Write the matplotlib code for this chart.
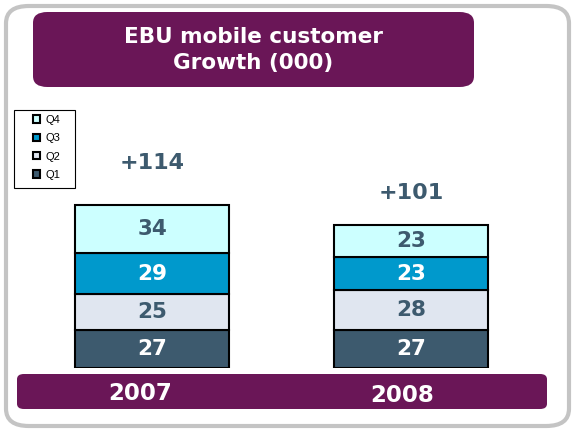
import matplotlib.pyplot as plt
from matplotlib.patches import FancyBboxPatch, Rectangle

# data
years = ['2007', '2008']
quarters = ['Q1', 'Q2', 'Q3', 'Q4']
q1 = [27, 27]
q2 = [25, 28]
q3 = [29, 23]
q4 = [34, 23]
totals = ['+114', '+101']

colors = ['#3d5a6e', '#e0e6f0', '#0099cc', '#ccffff']
text_colors = ['white', '#3d5a6e', 'white', '#3d5a6e']
purple = '#6a1657'
slate = '#3d5a6e'

W, H = 572, 432
fig = plt.figure(figsize=(W / 100, H / 100), dpi=100)


def fx(px):
    return px / W


def fy(py):
    return 1 - py / H


# outer rounded border
fig.patches.append(FancyBboxPatch((fx(6), fy(426)), fx(563), (426 - 6) / H,
                                  boxstyle='round,pad=0,rounding_size=0.04',
                                  transform=fig.transFigure, facecolor='white',
                                  edgecolor='#c4c4c4', lw=3, zorder=-2))

# title box
fig.patches.append(FancyBboxPatch((fx(33), fy(87)), fx(441), 75 / H,
                                  boxstyle='round,pad=0,rounding_size=0.025',
                                  transform=fig.transFigure, facecolor=purple,
                                  edgecolor='none', zorder=-1))
fig.text(fx(253), fy(50), 'EBU mobile customer\nGrowth (000)', ha='center', va='center',
         color='white', fontsize=15.5, fontweight='bold', linespacing=1.35)

# bottom band
fig.patches.append(FancyBboxPatch((fx(17), fy(409)), fx(530), 35 / H,
                                  boxstyle='round,pad=0,rounding_size=0.012',
                                  transform=fig.transFigure, facecolor=purple,
                                  edgecolor='none', zorder=-1))

# legend frame
fig.patches.append(Rectangle((fx(14), fy(188)), fx(61), 78 / H,
                             transform=fig.transFigure, facecolor='white',
                             edgecolor='black', lw=0.8, zorder=-1))

# chart axes: value 0 at y=368px, 1.42 px per unit; bar centres at 152 and 411 px
scale = 1.42
ax_top = 110
ax = fig.add_axes([0, fy(368), 1, (368 - ax_top) / H])
ax.set_ylim(0, (368 - ax_top) / scale)
step = 259
ax.set_xlim(-152 / step, (W - 152) / step)
ax.axis('off')
ax.patch.set_alpha(0)

xs = [0, 1]
bottoms = [0, 0]
series = [q1, q2, q3, q4]
handles = []
for i, vals in enumerate(series):
    b = ax.bar(xs, vals, width=154 / step, bottom=bottoms, color=colors[i],
               edgecolor='black', linewidth=1.5, label=quarters[i], zorder=3)
    handles.append(b)
    for x, v, bt in zip(xs, vals, bottoms):
        ax.text(x, bt + v / 2, str(v), ha='center', va='center', color=text_colors[i],
                fontsize=15.5, fontweight='bold', zorder=4)
    bottoms = [bt + v for bt, v in zip(bottoms, vals)]

# total labels above the bars
label_gap = [29.5, 22]
for x, t, tot, g in zip(xs, totals, bottoms, label_gap):
    ax.text(x, tot + g, t, ha='center', va='center', color=slate,
            fontsize=16, fontweight='bold')

# year labels on the band
fig.text(fx(140), fy(393), years[0], ha='center', va='center', color='white',
         fontsize=16.5, fontweight='bold')
fig.text(fx(402), fy(395), years[1], ha='center', va='center', color='white',
         fontsize=16.5, fontweight='bold')

leg = fig.legend(handles[::-1], quarters[::-1], loc='upper left',
                 bbox_to_anchor=(fx(28), fy(110)), borderaxespad=0,
                 prop={'family': 'Liberation Sans', 'size': 8},
                 handlelength=0.65, handleheight=0.65, handletextpad=0.45,
                 labelspacing=0.75, borderpad=0.45, frameon=False)

fig.savefig('out.png', dpi=100)
